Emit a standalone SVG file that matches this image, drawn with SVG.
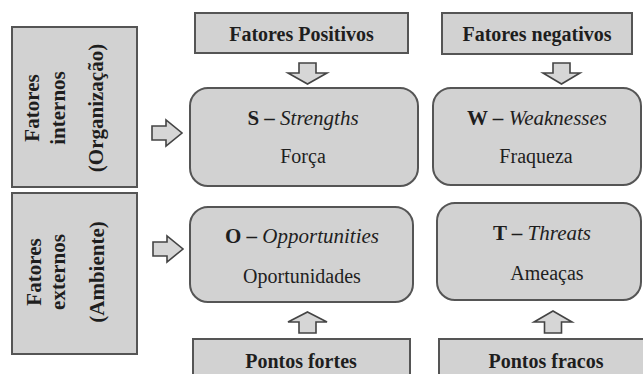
<svg xmlns="http://www.w3.org/2000/svg" width="643" height="374" viewBox="0 0 643 374">
<style>
.box{fill:#d2d2d2;stroke:#555;stroke-width:2}
.arr{fill:#d6d6d6;stroke:#444;stroke-width:1.6;stroke-linejoin:miter}
</style>
<rect width="643" height="374" fill="#fff"/>
<g id="interno">
<rect class="box" x="12" y="27" width="125" height="160"/>
<text font-family="Liberation Serif" font-size="21" font-weight="bold" fill="#1e1e1e" transform="translate(39,108) rotate(-90)" text-anchor="middle">Fatores</text>
<text font-family="Liberation Serif" font-size="21" font-weight="bold" fill="#1e1e1e" transform="translate(65,108) rotate(-90)" text-anchor="middle">internos</text>
<text font-family="Liberation Serif" font-size="21" font-weight="bold" fill="#1e1e1e" transform="translate(103,108) rotate(-90)" text-anchor="middle">(Organização)</text>
</g>
<g id="externo">
<rect class="box" x="12" y="193" width="125" height="161"/>
<text font-family="Liberation Serif" font-size="21" font-weight="bold" fill="#1e1e1e" transform="translate(41,272) rotate(-90)" text-anchor="middle">Fatores</text>
<text font-family="Liberation Serif" font-size="21" font-weight="bold" fill="#1e1e1e" transform="translate(65,272) rotate(-90)" text-anchor="middle">externos</text>
<text font-family="Liberation Serif" font-size="21" font-weight="bold" fill="#1e1e1e" transform="translate(104,272) rotate(-90)" text-anchor="middle">(Ambiente)</text>
</g>
<g id="positivos">
<rect class="box" x="195" y="13" width="213" height="40"/>
<text font-family="Liberation Serif" font-size="20" font-weight="bold" fill="#1e1e1e" x="301.5" y="41" text-anchor="middle">Fatores Positivos</text>
</g>
<g id="negativos">
<rect class="box" x="442" y="13" width="190" height="41"/>
<text font-family="Liberation Serif" font-size="20" font-weight="bold" fill="#1e1e1e" x="537" y="41" text-anchor="middle">Fatores negativos</text>
</g>
<g id="S">
<rect class="box" x="190" y="88" width="228" height="98" rx="18"/>
<text font-family="Liberation Serif" font-size="21" fill="#1e1e1e" x="303" y="125" text-anchor="middle"><tspan font-weight="bold">S – </tspan><tspan font-style="italic">Strengths</tspan></text>
<text font-family="Liberation Serif" font-size="20" fill="#1e1e1e" x="303" y="163" text-anchor="middle">Força</text>
</g>
<g id="W">
<rect class="box" x="433" y="88" width="208" height="97" rx="18"/>
<text font-family="Liberation Serif" font-size="21" fill="#1e1e1e" x="537" y="125" text-anchor="middle"><tspan font-weight="bold">W – </tspan><tspan font-style="italic">Weaknesses</tspan></text>
<text font-family="Liberation Serif" font-size="20" fill="#1e1e1e" x="536" y="163" text-anchor="middle">Fraqueza</text>
</g>
<g id="O">
<rect class="box" x="190" y="207" width="223" height="95" rx="18"/>
<text font-family="Liberation Serif" font-size="21" fill="#1e1e1e" x="302" y="243" text-anchor="middle"><tspan font-weight="bold">O – </tspan><tspan font-style="italic">Opportunities</tspan></text>
<text font-family="Liberation Serif" font-size="20" fill="#1e1e1e" x="302" y="283" text-anchor="middle">Oportunidades</text>
</g>
<g id="T">
<rect class="box" x="437" y="203" width="204" height="97" rx="18"/>
<text font-family="Liberation Serif" font-size="21" fill="#1e1e1e" x="542" y="240" text-anchor="middle"><tspan font-weight="bold">T – </tspan><tspan font-style="italic">Threats</tspan></text>
<text font-family="Liberation Serif" font-size="20" fill="#1e1e1e" x="547" y="280" text-anchor="middle">Ameaças</text>
</g>
<g id="fortes">
<rect class="box" x="193" y="339" width="217" height="45"/>
<text font-family="Liberation Serif" font-size="20" font-weight="bold" fill="#1e1e1e" x="301" y="368" text-anchor="middle">Pontos fortes</text>
</g>
<g id="fracos">
<rect class="box" x="439" y="339" width="215" height="45"/>
<text font-family="Liberation Serif" font-size="20" font-weight="bold" fill="#1e1e1e" x="546" y="368" text-anchor="middle">Pontos fracos</text>
</g>
<g id="connectors">
<path class="arr" d="M152,126 H166 V120 L182,133 L166,146 V140 H152 Z"/>
<path class="arr" d="M153,242 H167 V236 L183,249 L167,262 V256 H153 Z"/>
<path class="arr" d="M299,63 H316 V73 H327 L307.5,84 L288,73 H299 Z"/>
<path class="arr" d="M553,63 H570 V73 H580 L561.5,84 L543,73 H553 Z"/>
<path class="arr" d="M307.5,312 L327,322 H316 V333 H299 V322 H288 Z"/>
<path class="arr" d="M553,311 L572,322 H561.5 V333 H544.5 V322 H534 Z"/>
</g>
</svg>
